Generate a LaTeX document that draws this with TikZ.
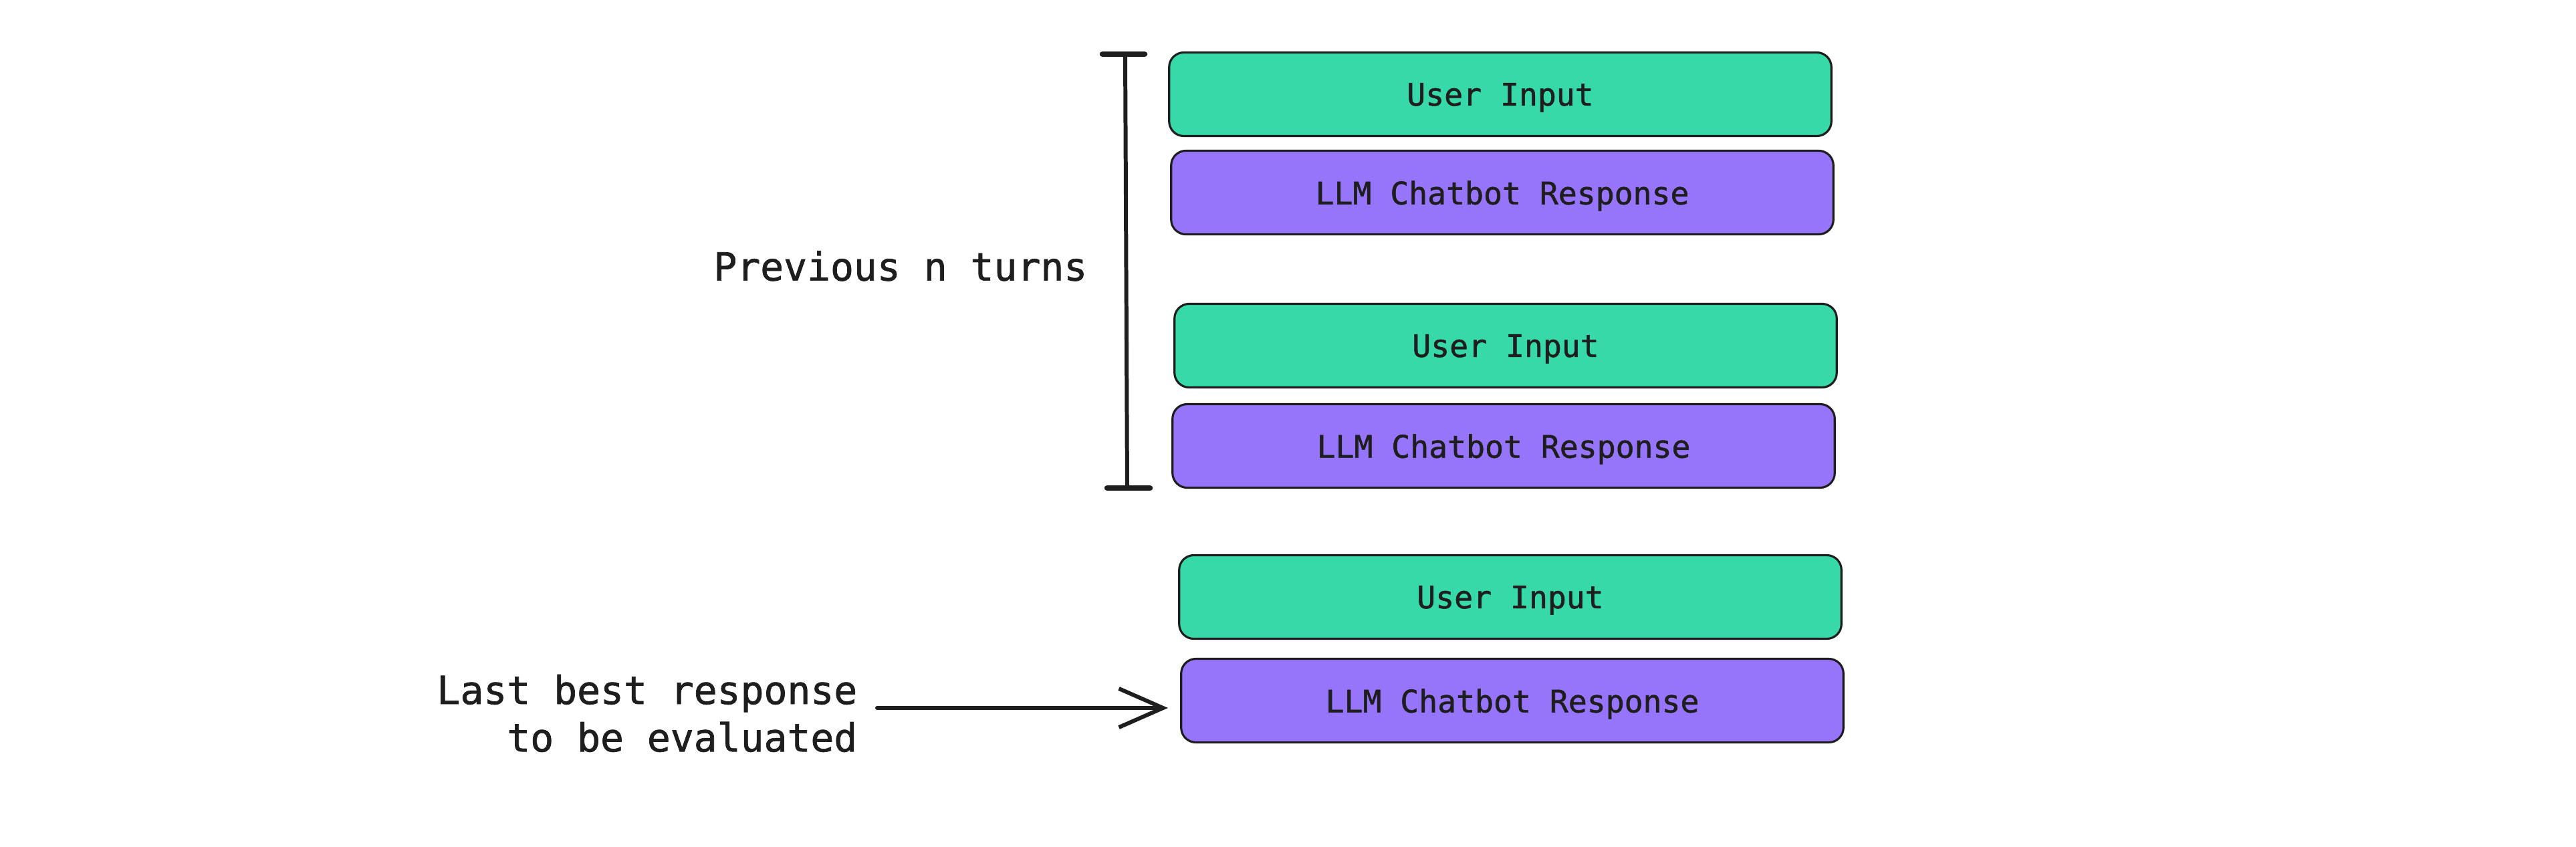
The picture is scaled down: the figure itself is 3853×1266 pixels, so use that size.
\documentclass[tikz,border=0pt]{standalone}
\usepackage{fontspec}
\newfontfamily\inkfont[FakeBold=1.2]{DejaVu Sans Mono}
\usetikzlibrary{positioning, arrows.meta}
\usepackage{xcolor}
\newcommand{\TxtUser}{User Input}
\newcommand{\TxtReply}{LLM Chatbot Response}
\newcommand{\TxtTurns}{Previous n turns}
\newcommand{\TxtLast}{Last best response\\to be evaluated}
\definecolor{mygreen}{HTML}{38D9A9}
\definecolor{myviolet}{HTML}{9775FA}
\definecolor{myink}{HTML}{1E1E1E}

\begin{document}
\begin{tikzpicture}[x=0.01cm,y=-0.01cm,
  turn/.style={draw=myink, line width=0.9pt, rounded corners=0.22cm,
    minimum width=9.9cm, minimum height=1.25cm, text=myink, text depth=0pt,
    font=\inkfont\fontsize{13.2}{16}\selectfont},
  user/.style={turn, fill=mygreen},
  reply/.style={turn, fill=myviolet},
  note/.style={text=myink, inner sep=0pt, align=right,
    font=\inkfont\fontsize{16.5}{20.2}\selectfont},
  ink/.style={draw=myink, line width=1.7pt, line cap=round}]
  \useasboundingbox (0,0) rectangle (3853,1266);
  \node[user]  (U1) at (2244, 141) {\TxtUser};
  \node[reply] (R1) at (2247, 288) {\TxtReply};
  \node[user]  (U2) at (2252, 517) {\TxtUser};
  \node[reply] (R2) at (2249, 667) {\TxtReply};
  \node[user]  (U3) at (2259, 893) {\TxtUser};
  \node[reply] (R3) at (2262, 1048) {\TxtReply};
  % bracket over the previous turns
  \coordinate (BrTop) at (1683, 81);
  \coordinate (BrBot) at (1686, 730);
  \draw[ink] (BrTop) -- (BrBot);
  \draw[ink, line width=2.4pt] ([xshift=-0.34cm]BrTop) -- ([xshift=0.29cm]BrTop);
  \draw[ink, line width=2.4pt] ([xshift=-0.30cm]BrBot) -- ([xshift=0.34cm]BrBot);
  \node[note, anchor=east] (turns) at (1627, 398) {\TxtTurns};
  % pointer to the response under test
  \node[note, anchor=east] (last) at (1283, 1067) {\TxtLast};
  \coordinate (Tip) at (1747, 1059);
  \draw[ink, shorten <=0.29cm, -{Straight Barb[length=6.6mm,width=5.8mm]}]
    (last.east |- Tip) -- (Tip);
\end{tikzpicture}
\end{document}
